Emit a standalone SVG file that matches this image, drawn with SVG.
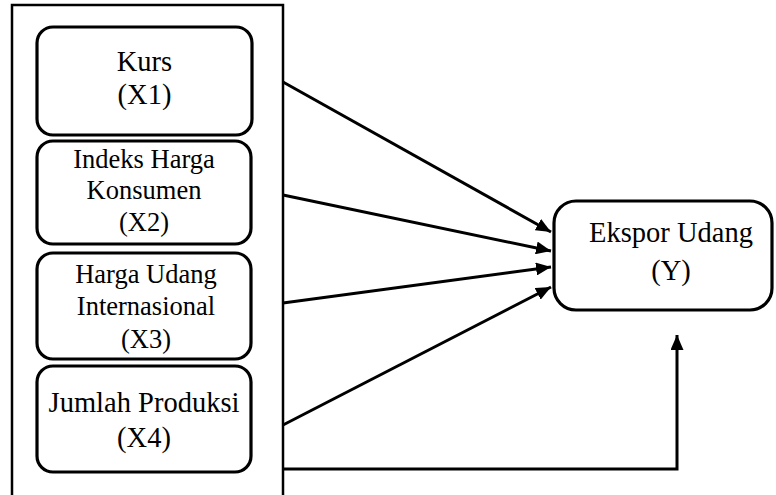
<svg xmlns="http://www.w3.org/2000/svg" width="776" height="495" viewBox="0 0 776 495">
<style>
.box{fill:#fff;stroke:#000;stroke-width:3.2}
.t{font-family:"Liberation Serif","Times New Roman",serif;fill:#000;text-anchor:middle}
.big{font-size:28.5px}
.sm{font-size:26.5px}
.ln{fill:none;stroke:#000;stroke-width:3}
</style>
<defs>
<marker id="ah" markerUnits="userSpaceOnUse" markerWidth="15" markerHeight="13" viewBox="0 0 15 13" refX="15" refY="6.5" orient="auto">
<path d="M0,0 L15,6.5 L0,13 Z" fill="#000"/>
</marker>
</defs>
<rect x="12" y="5" width="271" height="500" fill="#fff" stroke="#000" stroke-width="2.5"/>
<g id="connectors">
<line class="ln" x1="283" y1="82" x2="551" y2="232" marker-end="url(#ah)"/>
<line class="ln" x1="283" y1="195" x2="551" y2="251" marker-end="url(#ah)"/>
<line class="ln" x1="283" y1="303" x2="551" y2="267" marker-end="url(#ah)"/>
<line class="ln" x1="283" y1="425" x2="551" y2="287" marker-end="url(#ah)"/>
<path class="ln" d="M283,469 H677 V335" marker-end="url(#ah)"/>
</g>
<g id="x1">
<rect class="box" x="37" y="27" width="215" height="108" rx="16"/>
<text class="t big" x="144.5" y="71">Kurs</text>
<text class="t big" x="144.5" y="104">(X1)</text>
</g>
<g id="x2">
<rect class="box" x="37" y="141" width="214" height="103" rx="16"/>
<text class="t sm" x="144" y="168">Indeks Harga</text>
<text class="t sm" x="144" y="199">Konsumen</text>
<text class="t sm" x="144" y="231">(X2)</text>
</g>
<g id="x3">
<rect class="box" x="37" y="253" width="214" height="106" rx="16"/>
<text class="t sm" x="146" y="283">Harga Udang</text>
<text class="t sm" x="146" y="315">Internasional</text>
<text class="t sm" x="146" y="348">(X3)</text>
</g>
<g id="x4">
<rect class="box" x="37" y="366" width="214" height="106" rx="16"/>
<text class="t big" x="144" y="412">Jumlah Produksi</text>
<text class="t big" x="144" y="447">(X4)</text>
</g>
<g id="y">
<rect class="box" x="554" y="201" width="218" height="109" rx="22"/>
<text class="t big" x="671" y="242">Ekspor Udang</text>
<text class="t big" x="671" y="280">(Y)</text>
</g>
</svg>
